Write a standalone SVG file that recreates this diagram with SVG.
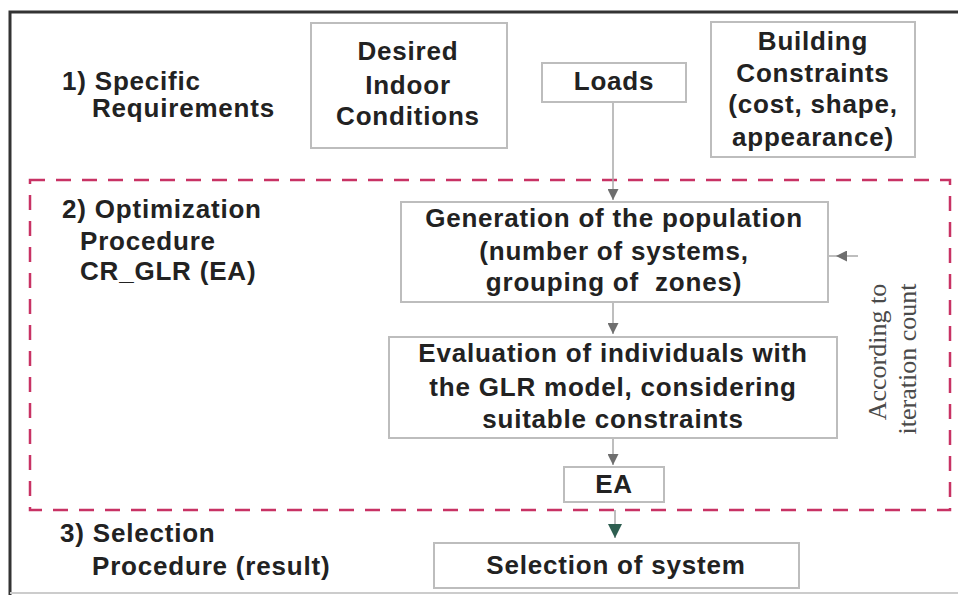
<svg xmlns="http://www.w3.org/2000/svg" width="958" height="595" viewBox="0 0 958 595">
  <defs>
    <style>
      .t { font-family: "Liberation Sans", Arial, sans-serif; font-weight: bold; font-size: 26px; letter-spacing: 0.8px; fill: #222; white-space: pre; }
      .c { text-anchor: middle; }
      .box { fill: #fff; stroke: #bdbdbd; stroke-width: 2; }
      .line { stroke: #a8a8a8; stroke-width: 1.5; fill: none; }
      .side { font-family: "Liberation Serif", "Times New Roman", serif; font-size: 26px; fill: #4a4a4a; text-anchor: middle; }
    </style>
    <marker id="tri" viewBox="0 0 10 10" refX="10" refY="5" markerWidth="11" markerHeight="11" markerUnits="userSpaceOnUse" orient="auto">
      <path d="M0,0 L10,5 L0,10 z" fill="#6e6e6e"/>
    </marker>
    <marker id="triG" viewBox="0 0 10 10" refX="10" refY="5" markerWidth="14" markerHeight="14" markerUnits="userSpaceOnUse" orient="auto">
      <path d="M0,0 L10,5 L0,10 z" fill="#2e5e50"/>
    </marker>
  </defs>

  <rect width="958" height="595" fill="#fff"/>
  <!-- outer frame -->
  <path d="M10,595 L10,12 L958,12" fill="none" stroke="#333" stroke-width="3"/>
  <line x1="10" y1="593" x2="958" y2="593" stroke="#ccc" stroke-width="2"/>

  <!-- optimization region -->
  <rect x="30" y="180" width="920" height="330" fill="none" stroke="#c83264" stroke-width="2.5" stroke-dasharray="15,11"/>

  <!-- stage labels -->
  <g id="stage1">
    <text class="t" x="62" y="90">1) Specific</text>
    <text class="t" x="92" y="117">Requirements</text>
  </g>
  <g id="stage2">
    <text class="t" x="62" y="218">2) Optimization</text>
    <text class="t" x="80" y="250">Procedure</text>
    <text class="t" x="80" y="280">CR_GLR (EA)</text>
  </g>
  <g id="stage3">
    <text class="t" x="60" y="542">3) Selection</text>
    <text class="t" x="92" y="575">Procedure (result)</text>
  </g>

  <!-- connectors -->
  <g id="connectors">
    <line class="line" x1="613" y1="102" x2="613" y2="200" marker-end="url(#tri)"/>
    <line class="line" x1="613" y1="302" x2="613" y2="334" marker-end="url(#tri)"/>
    <line class="line" x1="613" y1="438" x2="613" y2="465" marker-end="url(#tri)"/>
    <line class="line" x1="615" y1="510" x2="615" y2="538" marker-end="url(#triG)"/>
    <line class="line" x1="858" y1="256" x2="836" y2="256" marker-end="url(#tri)"/>
    <line class="line" x1="836" y1="256" x2="829" y2="256"/>
  </g>

  <g id="desired">
    <rect class="box" x="311" y="23" width="196" height="125"/>
    <text class="t c" x="408" y="60">Desired</text>
    <text class="t c" x="408" y="94">Indoor</text>
    <text class="t c" x="408" y="125">Conditions</text>
  </g>
  <g id="loads">
    <rect class="box" x="542" y="63" width="144" height="39"/>
    <text class="t c" x="614" y="90">Loads</text>
  </g>
  <g id="building">
    <rect class="box" x="711" y="22" width="204" height="135"/>
    <text class="t c" x="813" y="50">Building</text>
    <text class="t c" x="813" y="82">Constraints</text>
    <text class="t c" x="813" y="113">(cost, shape,</text>
    <text class="t c" x="813" y="146">appearance)</text>
  </g>
  <g id="generation">
    <rect class="box" x="401" y="202" width="427" height="100"/>
    <text class="t c" x="614" y="227">Generation of the population</text>
    <text class="t c" x="614" y="260">(number of systems,</text>
    <text class="t c" x="614" y="291" xml:space="preserve">grouping of  zones)</text>
  </g>
  <g id="evaluation">
    <rect class="box" x="389" y="337" width="448" height="101"/>
    <text class="t c" x="613" y="362">Evaluation of individuals with</text>
    <text class="t c" x="613" y="396">the GLR model, considering</text>
    <text class="t c" x="613" y="428">suitable constraints</text>
  </g>
  <g id="ea">
    <rect class="box" x="564" y="467" width="100" height="35"/>
    <text class="t c" x="614" y="493">EA</text>
  </g>
  <g id="selection">
    <rect class="box" x="434" y="543" width="365" height="45"/>
    <text class="t c" x="616" y="574">Selection of system</text>
  </g>

  <!-- loop note -->
  <g id="iteration">
    <text class="side" transform="translate(886,352) rotate(-90)">According to</text>
    <text class="side" transform="translate(916,359) rotate(-90)">iteration count</text>
  </g>
</svg>
